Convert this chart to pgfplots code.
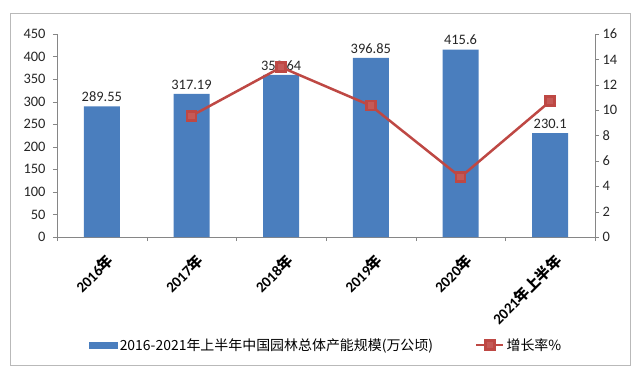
\documentclass[border=0pt]{standalone}
\usepackage{pgfplots}
\pgfplotsset{compat=1.18}
\usepackage{fontspec}
\setmainfont{Carlito}
\newfontfamily\cjk{Noto Sans CJK SC}
\definecolor{barblue}{RGB}{74,126,190}
\definecolor{linered}{RGB}{190,72,68}
\definecolor{axgray}{RGB}{134,134,134}
\begin{document}
\begin{tikzpicture}[x=1bp,y=1bp]
\useasboundingbox (-57,-141) rectangle (583,237);
\draw[gray!55] (-47,-128) rectangle (573,224);
\begin{axis}[at={(0,0)}, anchor=south west, scale only axis,
  width=538bp, height=203bp,
  xmin=-0.5, xmax=5.5, ymin=0, ymax=450,
  ytick={0,50,...,450},
  axis y line*=left, axis x line*=bottom,
  axis line style={axgray, -},
  tick style={axgray},
  tick align=outside, major tick length=4bp,
  xtick={-0.5,0.5,...,5.5}, xticklabels={},
  extra x ticks={0,1,2,3,4,5},
  extra x tick labels={2016{\cjk 年},2017{\cjk 年},2018{\cjk 年},2019{\cjk 年},2020{\cjk 年},2021{\cjk 年上半年}},
  extra x tick style={major tick length=0pt, tick label style={rotate=45, anchor=north east, font=\fontsize{15}{17}\selectfont\bfseries, inner sep=1bp, yshift=-12.5bp, xshift=-7.5bp}},
  yticklabel style={font=\fontsize{14.5}{16}\selectfont, text=black!85, xshift=-4bp},
  /pgf/number format/assume math mode=true,
  legend style={draw=none, fill=none, at={(0.5,-0.532)}, anchor=center, legend columns=2,
    font=\fontsize{14}{16}\selectfont\cjk,
    /tikz/every even column/.append style={column sep=40bp}},
  legend cell align=left,
]
\addplot[ybar, bar width=36bp, fill=barblue, draw=none,
  nodes near coords, point meta=explicit symbolic,
  every node near coord/.append style={font=\fontsize{14.5}{16}\selectfont, text=black!85, yshift=1bp},
  legend image code/.code={\fill[barblue] (0bp,-3.5bp) rectangle (29bp,3.5bp);}]
  table[meta=lab] {
x y lab
0 289.55 289.55
1 317.19 317.19
2 359.64 359.64
3 396.85 396.85
4 415.6 415.6
5 230.1 230.1
};
\addlegendentry{2016-2021年上半年中国园林总体产能规模(万公顷)}
\addlegendimage{linered, line width=2.5bp, mark=square*, mark size=4.5bp, mark options={fill=linered!90!white},
  legend image code/.code={\draw[mark repeat=2, mark phase=2] plot coordinates {(0bp,0bp) (13.5bp,0bp) (27bp,0bp)};}}
\addlegendentry{增长率\%}
\end{axis}
\begin{axis}[at={(0,0)}, anchor=south west, scale only axis,
  width=538bp, height=203bp,
  xmin=-0.5, xmax=5.5, ymin=0, ymax=16,
  ytick={0,2,...,16},
  axis y line*=right, axis x line=none,
  axis line style={axgray, -},
  tick style={axgray},
  tick align=outside, major tick length=4bp,
  yticklabel style={font=\fontsize{14.5}{16}\selectfont, text=black!85},
  /pgf/number format/assume math mode=true,
]
\addplot[linered, line width=2.5bp, mark=square*, mark size=4.5bp, mark options={fill=linered!90!white}]
  coordinates {(1,9.55) (2,13.38) (3,10.35) (4,4.72) (5,10.7)};
\end{axis}
\end{tikzpicture}
\end{document}
